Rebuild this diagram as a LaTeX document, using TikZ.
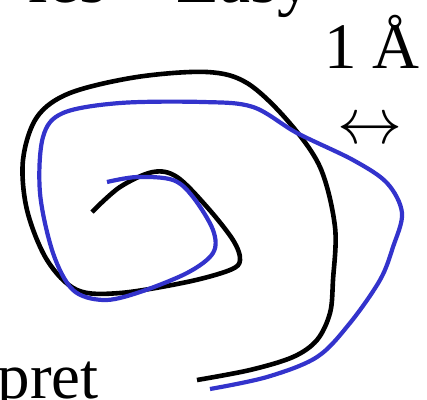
\RequirePackage{fix-cm}
\documentclass[tikz,border=0pt]{standalone}
\usepackage{fontspec}
\setmainfont{Liberation Serif}
\definecolor{curveblue}{RGB}{51,51,204}
\begin{document}
\begin{tikzpicture}[x=1pt,y=-1pt,
  lbl/.style={inner sep=0pt,font=\fontsize{65}{65}\selectfont},
  toplbl/.style={inner sep=0pt,font=\fontsize{70}{70}\selectfont},
  blackcurve/.style={draw=black,line width=4.6pt,line cap=butt,line join=round},
  bluecurve/.style={draw=curveblue,line width=4.2pt,line cap=butt,line join=round}]
\useasboundingbox (0,0) rectangle (427,399);
\node[toplbl,anchor=base east] (title) at (313,2) {ies – Easy};
\node[lbl,anchor=base east] (scale) at (420,68) {1 Å};
\node[lbl] (arrow) at (370,132) {$\leftrightarrow$};
\node[lbl,anchor=base east] (interp) at (99,398) {pret};
% black curve
\draw[blackcurve] plot[smooth,tension=0.55] coordinates {
 (92,212) (120,187) (153,172) (177,177) (207,207) (233,240) (240,260)
 (230,270) (187,282) (120,293) (77,290) (47,260) (27,210) (23,160)
 (37,117) (70,93) (137,77) (207,72) (247,83) (287,120) (320,167)
 (335,227) (333,280) (330,313) (317,340) (293,357) (250,370) (197,380)};
% blue curve
\draw[bluecurve] plot[smooth,tension=0.55] coordinates {
 (107,182) (137,177) (173,180) (193,197) (213,230) (213,253) (187,273)
 (137,293) (103,300) (73,290) (53,253) (40,193) (43,137) (63,113)
 (120,103) (203,102) (253,107) (297,133) (353,160) (387,183) (402,213)
 (393,247) (380,280) (350,323) (317,357) (267,377) (210,389)};
\end{tikzpicture}
\end{document}
